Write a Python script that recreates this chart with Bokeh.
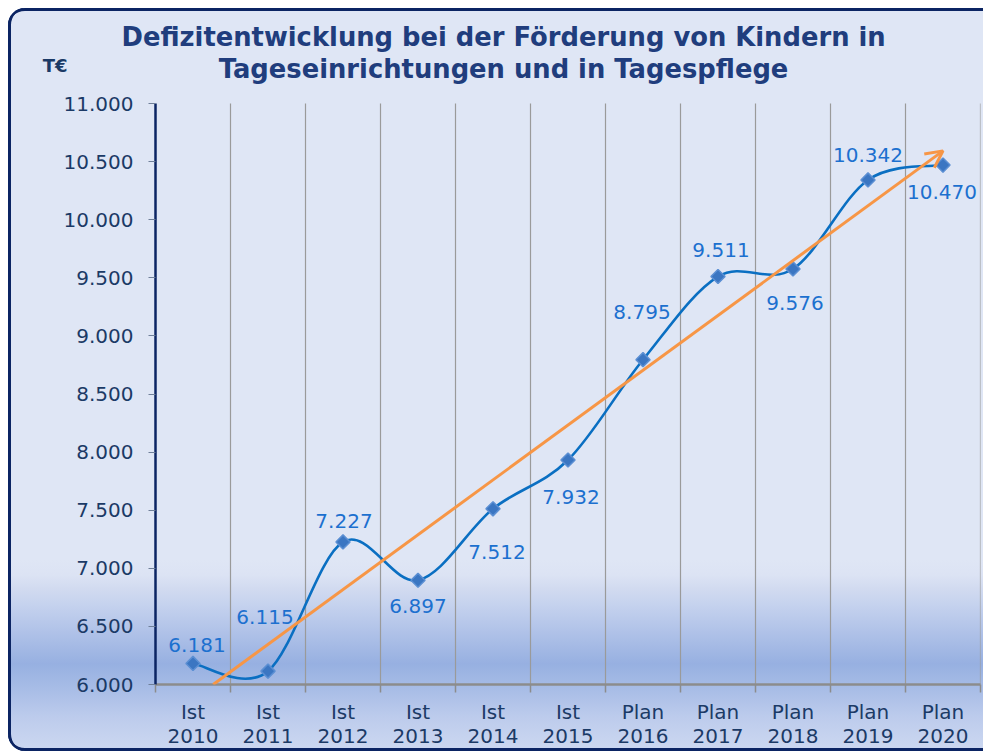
import numpy as np
from bokeh.plotting import figure
from bokeh.models import (Label, Arrow, OpenHead, LinearAxis, FixedTicker, Title,
                          Range1d, ColumnDataSource, CustomJSTickFormatter)
from bokeh.core.properties import value
from bokeh.embed import file_html
from bokeh.resources import INLINE

# ---------------- data ----------------
categories = ["Ist\n2010", "Ist\n2011", "Ist\n2012", "Ist\n2013", "Ist\n2014", "Ist\n2015",
              "Plan\n2016", "Plan\n2017", "Plan\n2018", "Plan\n2019", "Plan\n2020"]
deficit = [6181, 6115, 7227, 6897, 7512, 7932, 8795, 9511, 9576, 10342, 10470]
value_labels = ["6.181", "6.115", "7.227", "6.897", "7.512", "7.932",
                "8.795", "9.511", "9.576", "10.342", "10.470"]
y_ticks = [6000, 6500, 7000, 7500, 8000, 8500, 9000, 9500, 10000, 10500, 11000]
y_tick_labels = ["6.000", "6.500", "7.000", "7.500", "8.000", "8.500",
                 "9.000", "9.500", "10.000", "10.500", "11.000"]
title_lines = ["Defizitentwicklung bei der Förderung von Kindern in",
               "Tageseinrichtungen und in Tagespflege"]
unit_label = "T€"

# label placement (pixels, screen, +down)
label_dx = [4, -3, 1, 0, 4, 3, -1, 3, 2, 0, -1]
label_dy = [-18, -54, -21, 26, 43, 37, -48, -27, 34, -25, 27]

# ---------------- styles / layout ----------------
FONT = "DejaVu Sans"
NAVY_TXT = "#1b3a66"
TITLE_C = "#203d7d"
BORDER_C = "#0b2463"
LINE_C = "#0a6fc2"
LABEL_C = "#1c70cf"
ORANGE = "#f79646"
GRID_C = "#9a9a9a"

W, H = 975, 743
F_LEFT, F_RIGHT, F_TOP, F_BOTTOM = 147, 972, 46, 676   # frame in canvas px
Y_TOP_PX = 95                                          # canvas px of the top tick
n = len(categories)
xc = np.arange(n) + 0.5
yv = np.array(deficit, dtype=float)
upp = (y_ticks[-1] - y_ticks[0]) / (F_BOTTOM - Y_TOP_PX)   # units per pixel
y_end = y_ticks[-1] + (Y_TOP_PX - F_TOP) * upp

p = figure(width=W, height=H, output_backend="svg", toolbar_location=None,
           x_range=Range1d(0, n), y_range=Range1d(y_ticks[0], y_end),
           x_axis_type=None, y_axis_type=None,
           min_border_left=F_LEFT, min_border_right=W - F_RIGHT,
           min_border_top=F_TOP, min_border_bottom=H - F_BOTTOM)
p.margin = (8, 0, 0, 8)
p.outline_line_color = None
p.background_fill_color = None
p.border_fill_color = None

grad = ("linear-gradient(to bottom, #dfe6f5 552px, rgb(220,227,244) 567px, rgb(210,219,240) 580px, "
        "rgb(197,210,238) 597px, rgb(176,194,232) 624px, rgb(151,176,225) 656px, "
        "rgb(167,188,230) 680px, rgb(188,203,236) 708px, rgb(202,214,240) 737px)")
p.styles = {
    "background": grad,
    "border-top-left-radius": "17px",
    "border-bottom-left-radius": "17px",
    "box-shadow": f"inset 3px 0 0 0 {BORDER_C}, inset 0 3px 0 0 {BORDER_C}, inset 0 -3px 0 0 {BORDER_C}",
}

# vertical grid lines at the category boundaries (between 6.000 and 11.000)
bounds_x = np.arange(1, n + 1)
p.segment(x0=bounds_x, y0=[y_ticks[0]] * n, x1=bounds_x, y1=[y_ticks[-1]] * n,
          line_color=GRID_C, line_width=1.2)

# y axis
yfmt = CustomJSTickFormatter(args=dict(tvals=y_ticks, tlabs=y_tick_labels),
                             code="const i = tvals.indexOf(tick); return i >= 0 ? tlabs[i] : '';")
yaxis = LinearAxis(ticker=FixedTicker(ticks=y_ticks), formatter=yfmt,
                   bounds=(y_ticks[0], y_ticks[-1]),
                   axis_line_color=BORDER_C, axis_line_width=2.5,
                   major_tick_line_color="#6f7f99", major_tick_out=7, major_tick_in=0,
                   minor_tick_line_color=None,
                   major_label_text_font=FONT, major_label_text_font_size="20px",
                   major_label_text_color=NAVY_TXT, major_label_standoff=15)
p.add_layout(yaxis, "left")

# unit label as an outer axis label near the top
unit_val = y_ticks[0] + (F_BOTTOM - 57) * upp
uaxis = LinearAxis(ticker=FixedTicker(ticks=[unit_val]),
                   formatter=CustomJSTickFormatter(args=dict(u=unit_label), code="return u;"),
                   axis_line_color=None, major_tick_line_color=None, minor_tick_line_color=None,
                   major_label_text_font=FONT, major_label_text_font_size="18px",
                   major_label_text_font_style="bold",
                   major_label_text_color=NAVY_TXT, major_label_standoff=-13)
p.add_layout(uaxis, "left")

# x axis: boundary ticks + line
xaxis_a = LinearAxis(ticker=FixedTicker(ticks=list(range(0, n + 1))),
                     axis_line_color="#8c8c8c", axis_line_width=2.5,
                     major_tick_line_color="#8c8c8c", major_tick_line_width=1.5,
                     major_tick_out=8, major_tick_in=0, minor_tick_line_color=None,
                     major_label_text_font_size="0px", major_label_standoff=0,
                     formatter=CustomJSTickFormatter(code="return '';"))
p.add_layout(xaxis_a, "below")

xfmt = CustomJSTickFormatter(args=dict(cats=categories),
                             code="const i = Math.round(tick - 0.5); return (i >= 0 && i < cats.length) ? cats[i] : '';")
xaxis_b = LinearAxis(ticker=FixedTicker(ticks=list(xc)), formatter=xfmt,
                     axis_line_color=None, major_tick_line_color=None, minor_tick_line_color=None,
                     major_label_text_font=FONT, major_label_text_font_size="20px",
                     major_label_text_color=NAVY_TXT, major_label_standoff=1,
                     major_label_text_line_height=1.0)
p.add_layout(xaxis_b, "below")

# linear trend arrow (least squares fit of the data)
slope, icpt = np.polyfit(np.arange(n), yv, 1)
x_start = (y_ticks[0] - icpt) / slope + 0.5
x_end = (n - 1) + 0.5
p.add_layout(Arrow(end=OpenHead(size=17, line_color=ORANGE, line_width=3),
                   x_start=x_start, y_start=y_ticks[0],
                   x_end=x_end, y_end=slope * (n - 1) + icpt,
                   line_color=ORANGE, line_width=3))

# smoothed line (Catmull-Rom style bezier through the points)
xp = np.concatenate([[xc[0]], xc, [xc[-1]]])
ypp = np.concatenate([[yv[0]], yv, [yv[-1]]])
seg = dict(x0=[], y0=[], x1=[], y1=[], cx0=[], cy0=[], cx1=[], cy1=[])
for i in range(n - 1):
    a, b, c, d = i, i + 1, i + 2, i + 3
    seg["x0"].append(xp[b]); seg["y0"].append(ypp[b])
    seg["x1"].append(xp[c]); seg["y1"].append(ypp[c])
    seg["cx0"].append(xp[b] + (xp[c] - xp[a]) / 6); seg["cy0"].append(ypp[b] + (ypp[c] - ypp[a]) / 6)
    seg["cx1"].append(xp[c] - (xp[d] - xp[b]) / 6); seg["cy1"].append(ypp[c] - (ypp[d] - ypp[b]) / 6)
p.bezier(x0="x0", y0="y0", x1="x1", y1="y1", cx0="cx0", cy0="cy0", cx1="cx1", cy1="cy1",
         source=ColumnDataSource(seg), line_color=LINE_C, line_width=2.6)

src = ColumnDataSource(dict(x=xc, y=yv, lab=value_labels, dx=label_dx, dy=label_dy))
p.scatter("x", "y", source=src, marker="square", angle=np.pi / 4, size=10,
          fill_color="#3b76c2", line_color="#5b8fd3", line_width=1.5)
p.text("x", "y", text="lab", source=src, x_offset="dx", y_offset="dy",
       text_align="center", text_baseline="middle", text_font=value(FONT),
       text_font_size="20px", text_color=LABEL_C)

# title: first line as a Title above the frame, second line inside the (extended) frame
p.add_layout(Title(text=title_lines[0], align="left", offset=-34, vertical_align="middle",
                   standoff=3, text_font=FONT, text_font_size="25.8px",
                   text_font_style="bold", text_color=TITLE_C), "above")
p.add_layout(Label(x=495, y=60, x_units="canvas", y_units="canvas", text=title_lines[1],
                   text_align="center", text_baseline="middle", text_font=FONT,
                   text_font_size="25.8px", text_font_style="bold", text_color=TITLE_C))

open("out.html", "w").write(file_html(p, INLINE))
